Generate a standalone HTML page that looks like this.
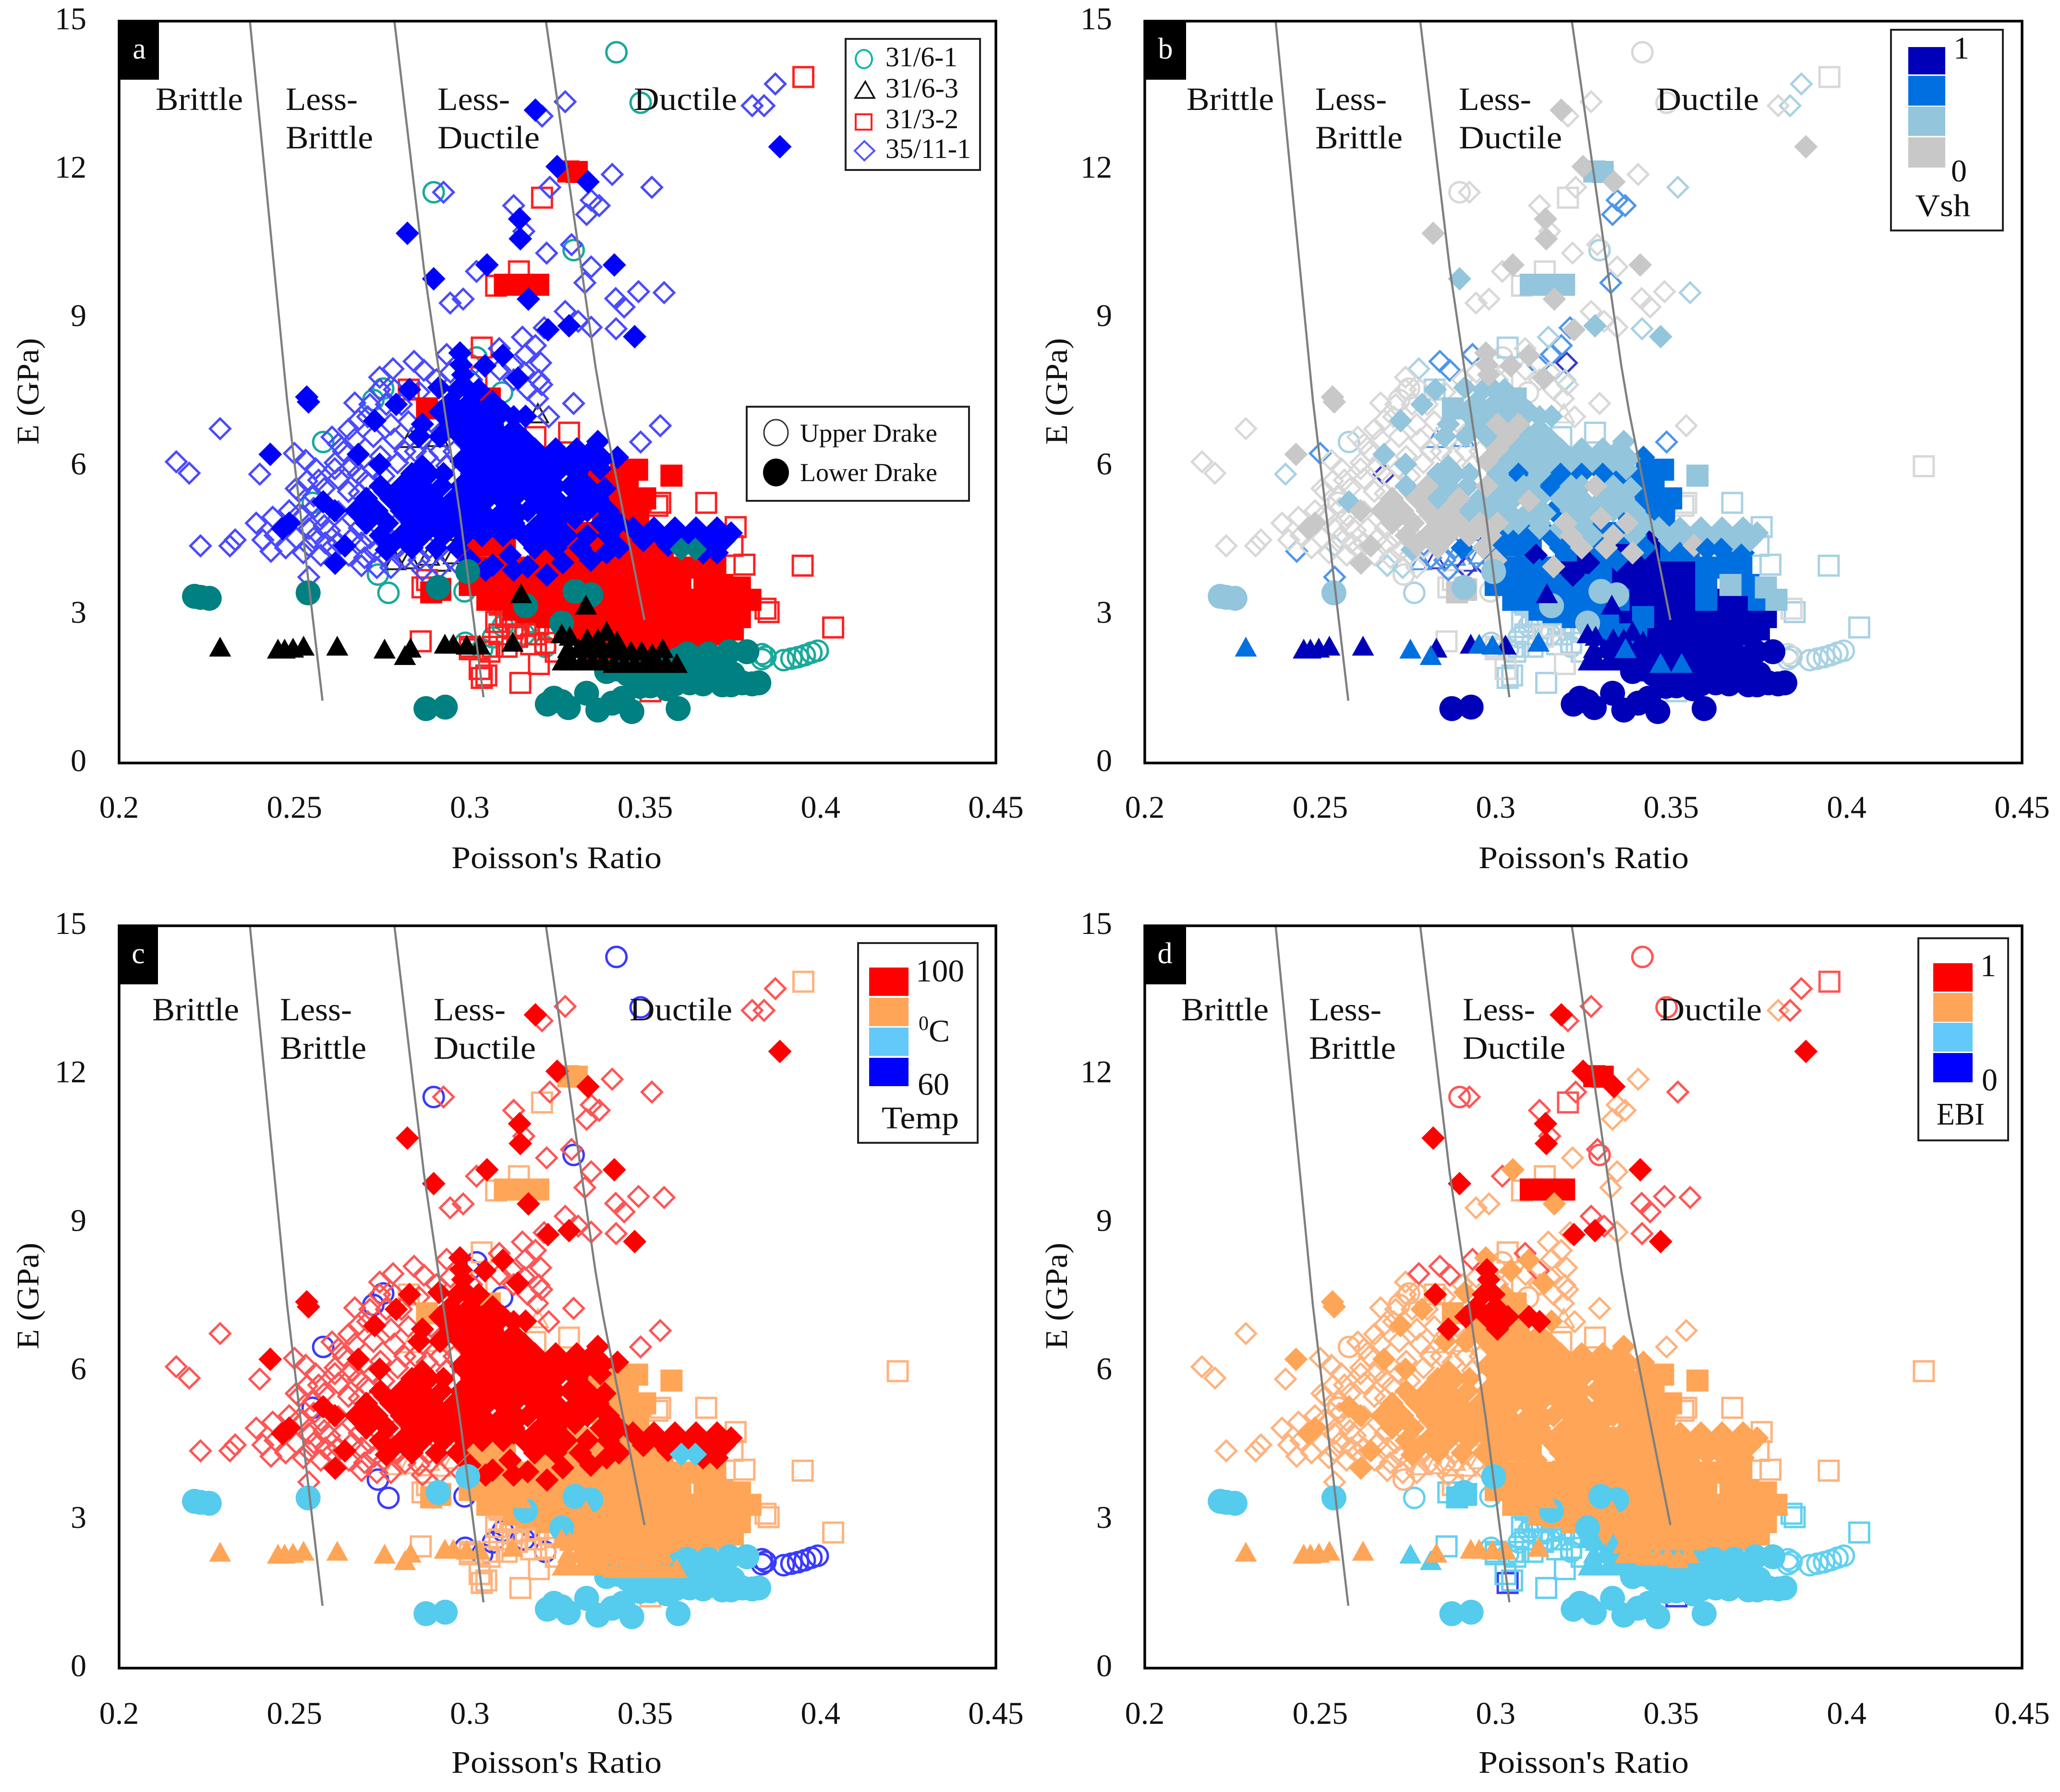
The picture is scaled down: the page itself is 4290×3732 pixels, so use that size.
<!DOCTYPE html>
<html lang="en">
<head>
<meta charset="utf-8">
<title>Poisson's Ratio vs E crossplots</title>
<style>
html,body{margin:0;padding:0;background:#fff}
svg{display:block}
text{font-family:"Liberation Serif","DejaVu Serif",serif;fill:#111}
.rg{font-size:68px}
.tk{font-size:66px}
.ax{font-size:66px}
.lg{font-size:58px}
.dr{font-size:54px}
.ltr{font-size:62px;fill:#fff;text-anchor:middle}
</style>
</head>
<body>
<svg xmlns="http://www.w3.org/2000/svg" width="4290" height="3732" viewBox="0 0 4290 3732">
<rect width="4290" height="3732" fill="#fff"/>

<g id="panel-a">
  <g id="marks-a"></g>
  <g id="curves-a"></g>
  <text class="rg" x="324" y="229" textLength="182" lengthAdjust="spacingAndGlyphs">Brittle</text>
  <text class="rg" x="595" y="229" textLength="150" lengthAdjust="spacingAndGlyphs">Less-</text>
  <text class="rg" x="595" y="309" textLength="182" lengthAdjust="spacingAndGlyphs">Brittle</text>
  <text class="rg" x="911" y="229" textLength="151" lengthAdjust="spacingAndGlyphs">Less-</text>
  <text class="rg" x="911" y="309" textLength="213" lengthAdjust="spacingAndGlyphs">Ductile</text>
  <text class="rg" x="1320" y="229" textLength="215" lengthAdjust="spacingAndGlyphs">Ductile</text>
  <g>
    <rect x="1761" y="81" width="280" height="273" fill="#fff" stroke="#222" stroke-width="4"/>
    <ellipse cx="1799" cy="123" rx="17" ry="19" fill="none" stroke="#10b4ac" stroke-width="4"/>
    <path d="M1781 204 L1802 170 L1821 204 Z" fill="none" stroke="#111" stroke-width="3.5"/>
    <rect x="1782" y="238" width="33" height="32" fill="none" stroke="#ff2020" stroke-width="4"/>
    <path d="M1800 294 L1821 314 L1800 334 L1780 314 Z" fill="none" stroke="#5555ff" stroke-width="4"/>
    <text class="lg" x="1844" y="138" textLength="150" lengthAdjust="spacingAndGlyphs">31/6-1</text>
    <text class="lg" x="1844" y="203" textLength="152" lengthAdjust="spacingAndGlyphs">31/6-3</text>
    <text class="lg" x="1844" y="267" textLength="152" lengthAdjust="spacingAndGlyphs">31/3-2</text>
    <text class="lg" x="1844" y="329" textLength="178" lengthAdjust="spacingAndGlyphs">35/11-1</text>
  </g>
  <g>
    <rect x="1555" y="847" width="463" height="196" fill="#fff" stroke="#222" stroke-width="4"/>
    <ellipse cx="1616" cy="901" rx="25" ry="27" fill="none" stroke="#333" stroke-width="3"/>
    <ellipse cx="1616" cy="984" rx="27" ry="29" fill="#000"/>
    <text class="dr" x="1666" y="920" textLength="286" lengthAdjust="spacingAndGlyphs">Upper Drake</text>
    <text class="dr" x="1666" y="1002" textLength="286" lengthAdjust="spacingAndGlyphs">Lower Drake</text>
  </g>
  <rect x="248" y="44" width="83" height="122" fill="#000"/>
  <text class="ltr" x="290" y="122">a</text>
  <rect x="248" y="44" width="1826" height="1545" fill="none" stroke="#000" stroke-width="5.5"/>
  <text class="ax" x="1159" y="1808" text-anchor="middle" textLength="438" lengthAdjust="spacingAndGlyphs">Poisson's Ratio</text>
  <text class="ax" transform="translate(80 815) rotate(-90)" text-anchor="middle" textLength="222" lengthAdjust="spacingAndGlyphs">E (GPa)</text>
  <g id="ticks-a"></g>
</g>

<g id="panel-b">
  <g id="marks-b"></g>
  <g id="curves-b"></g>
  <text class="rg" x="2471" y="229" textLength="182" lengthAdjust="spacingAndGlyphs">Brittle</text>
  <text class="rg" x="2739" y="229" textLength="149" lengthAdjust="spacingAndGlyphs">Less-</text>
  <text class="rg" x="2739" y="309" textLength="182" lengthAdjust="spacingAndGlyphs">Brittle</text>
  <text class="rg" x="3038" y="229" textLength="151" lengthAdjust="spacingAndGlyphs">Less-</text>
  <text class="rg" x="3038" y="309" textLength="215" lengthAdjust="spacingAndGlyphs">Ductile</text>
  <text class="rg" x="3449" y="229" textLength="214" lengthAdjust="spacingAndGlyphs">Ductile</text>
  <g>
    <rect x="3938" y="62" width="233" height="418" fill="#fff" stroke="#222" stroke-width="4"/>
    <rect x="3974" y="98" width="77" height="57" fill="#0000b8"/>
    <rect x="3974" y="158" width="77" height="62" fill="#0070e0"/>
    <rect x="3974" y="222" width="77" height="61" fill="#93c5dc"/>
    <rect x="3974" y="286" width="77" height="63" fill="#c8c8c8"/>
    <text class="tk" x="4068" y="122">1</text>
    <text class="tk" x="4063" y="378">0</text>
    <text class="tk" x="4046" y="450" text-anchor="middle" textLength="115" lengthAdjust="spacingAndGlyphs">Vsh</text>
  </g>
  <rect x="2384" y="44" width="86" height="122" fill="#000"/>
  <text class="ltr" x="2427" y="122">b</text>
  <rect x="2384" y="44" width="1827" height="1545" fill="none" stroke="#000" stroke-width="5.5"/>
  <text class="ax" x="3298" y="1808" text-anchor="middle" textLength="438" lengthAdjust="spacingAndGlyphs">Poisson's Ratio</text>
  <text class="ax" transform="translate(2222 815) rotate(-90)" text-anchor="middle" textLength="222" lengthAdjust="spacingAndGlyphs">E (GPa)</text>
  <g id="ticks-b"></g>
</g>

<g id="panel-c">
  <g id="marks-c"></g>
  <g id="curves-c"></g>
  <text class="rg" x="317" y="2125" textLength="181" lengthAdjust="spacingAndGlyphs">Brittle</text>
  <text class="rg" x="583" y="2125" textLength="150" lengthAdjust="spacingAndGlyphs">Less-</text>
  <text class="rg" x="583" y="2205" textLength="180" lengthAdjust="spacingAndGlyphs">Brittle</text>
  <text class="rg" x="903" y="2125" textLength="150" lengthAdjust="spacingAndGlyphs">Less-</text>
  <text class="rg" x="903" y="2205" textLength="213" lengthAdjust="spacingAndGlyphs">Ductile</text>
  <text class="rg" x="1311" y="2125" textLength="214" lengthAdjust="spacingAndGlyphs">Ductile</text>
  <g>
    <rect x="1787" y="1964" width="249" height="416" fill="#fff" stroke="#222" stroke-width="4"/>
    <rect x="1810" y="2015" width="82" height="59" fill="#ff0000"/>
    <rect x="1810" y="2078" width="82" height="59" fill="#ffa557"/>
    <rect x="1810" y="2140" width="82" height="59" fill="#62c9fa"/>
    <rect x="1810" y="2203" width="82" height="59" fill="#0000ff"/>
    <text class="tk" x="1907" y="2044" textLength="101" lengthAdjust="spacingAndGlyphs">100</text>
    <text class="tk" x="1913" y="2169"><tspan font-size="42" dy="-24">0</tspan><tspan dy="24">C</tspan></text>
    <text class="tk" x="1911" y="2280">60</text>
    <text class="tk" x="1836" y="2350" textLength="161" lengthAdjust="spacingAndGlyphs">Temp</text>
  </g>
  <rect x="248" y="1928" width="81" height="122" fill="#000"/>
  <text class="ltr" x="288" y="2006">c</text>
  <rect x="248" y="1928" width="1826" height="1546" fill="none" stroke="#000" stroke-width="5.5"/>
  <text class="ax" x="1159" y="3692" text-anchor="middle" textLength="438" lengthAdjust="spacingAndGlyphs">Poisson's Ratio</text>
  <text class="ax" transform="translate(80 2699) rotate(-90)" text-anchor="middle" textLength="222" lengthAdjust="spacingAndGlyphs">E (GPa)</text>
  <g id="ticks-c"></g>
</g>

<g id="panel-d">
  <g id="marks-d"></g>
  <g id="curves-d"></g>
  <text class="rg" x="2460" y="2125" textLength="182" lengthAdjust="spacingAndGlyphs">Brittle</text>
  <text class="rg" x="2726" y="2125" textLength="151" lengthAdjust="spacingAndGlyphs">Less-</text>
  <text class="rg" x="2726" y="2205" textLength="181" lengthAdjust="spacingAndGlyphs">Brittle</text>
  <text class="rg" x="3046" y="2125" textLength="151" lengthAdjust="spacingAndGlyphs">Less-</text>
  <text class="rg" x="3046" y="2205" textLength="214" lengthAdjust="spacingAndGlyphs">Ductile</text>
  <text class="rg" x="3456" y="2125" textLength="213" lengthAdjust="spacingAndGlyphs">Ductile</text>
  <g>
    <rect x="3995" y="1954" width="187" height="421" fill="#fff" stroke="#222" stroke-width="4"/>
    <rect x="4026" y="2006" width="82" height="59" fill="#ff0000"/>
    <rect x="4026" y="2068" width="82" height="60" fill="#ffa557"/>
    <rect x="4026" y="2130" width="82" height="60" fill="#62c9fa"/>
    <rect x="4026" y="2193" width="82" height="61" fill="#0000ff"/>
    <text class="tk" x="4124" y="2033">1</text>
    <text class="tk" x="4127" y="2271">0</text>
    <text class="tk" x="4083" y="2342" text-anchor="middle" textLength="100" lengthAdjust="spacingAndGlyphs">EBI</text>
  </g>
  <rect x="2384" y="1928" width="86" height="122" fill="#000"/>
  <text class="ltr" x="2426" y="2006">d</text>
  <rect x="2384" y="1928" width="1827" height="1546" fill="none" stroke="#000" stroke-width="5.5"/>
  <text class="ax" x="3298" y="3692" text-anchor="middle" textLength="438" lengthAdjust="spacingAndGlyphs">Poisson's Ratio</text>
  <text class="ax" transform="translate(2222 2699) rotate(-90)" text-anchor="middle" textLength="222" lengthAdjust="spacingAndGlyphs">E (GPa)</text>
  <g id="ticks-d"></g>
</g>
</svg>

<script>
// Tick values
const xTickValues=[0.2,0.25,0.3,0.35,0.4,0.45];
const xTickLabels=["0.2","0.25","0.3","0.35","0.4","0.45"];
const yTickValues=[0,3,6,9,12,15];
const yTickLabels=["0","3","6","9","12","15"];

// Brittleness boundary curves: [Poisson's ratio, E]
const curveBrittle=[[.2373,15],[.2479,7.34],[.258,1.26]];
const curveLessBrittle=[[.2785,15],[.2869,10],[.2972,5.03],[.3039,1.33]];
const curveLessDuctile=[[.3217,15],[.3358,8.03],[.338,7.11],[.3498,2.89]];

// Every row: [Poisson's ratio, E (GPa), Vsh class, Temp class, EBI class]
// Vsh class 0..3 = low..high; Temp and EBI class 0..3 = low..high
const upperCircles=[
[.3418,14.37,0,0,3],[.3487,13.35,0,0,3],[.2897,11.54,0,0,3],[.3296,10.37,1,0,3],[.3092,7.49,0,0,2],[.3019,8.2,0,0,2],
[.2753,7.57,0,0,2],[.2725,7.34,0,0,2],[.2582,6.49,1,0,2],[.2552,5.26,0,0,2],[.2738,3.81,0,0,2],[.2768,3.44,1,0,1],
[.2985,3.47,0,0,1],[.2987,2.43,1,0,1],[.3035,2.3,1,0,1],[.3066,2.54,1,0,1],[.3094,2.77,1,0,1],[.3155,2.6,1,0,1],
[.3175,2.85,1,0,1],[.3215,2.35,1,0,1],[.3833,2.2,0,0,1],[.3833,2.1,1,0,1],[.3843,2.15,1,0,1],[.3895,2.08,1,0,1],
[.3917,2.11,1,0,1],[.3936,2.14,1,0,1],[.3955,2.18,1,0,1],[.3974,2.23,1,0,1],[.3992,2.27,1,0,1],[.3,8.05,0,0,2]];

const upperTriangles=[
[.2831,6.55,2,2,2],[.2909,6.57,2,2,2],[.3194,7.05,0,2,2],[.3023,6.5,1,2,2],[.2787,4.08,2,2,2],[.2827,4.1,3,2,2],
[.2883,4.17,2,2,2],[.2937,4.67,2,2,2],[.2979,4.62,3,2,2],[.3015,4.86,2,2,2],[.2915,4.05,3,2,2],[.2955,4.2,2,2,2]];

const upperSquares=[
[.3951,13.87,0,2,3],[.3206,11.43,0,2,3],[.314,9.94,0,2,2],[.3075,9.65,0,2,2],[.3034,8.4,1,2,2],[.3019,7.8,0,2,2],
[.3283,6.68,1,2,2],[.3187,6.59,1,2,2],[.3543,5.26,0,2,2],[.3535,5.2,0,2,2],[.3674,5.26,1,2,2],[.3758,4.77,1,2,2],
[.3749,4.39,1,2,2],[.3783,4.01,1,2,2],[.3949,3.99,1,2,2],[.4036,2.74,1,2,1],[.3843,3.12,0,2,1],[.3852,3.05,1,2,1],
[.286,2.46,0,2,1],[.3,2.3,0,2,1],[.3056,2.25,1,2,1],[.3028,1.9,0,2,1],[.3034,1.72,1,2,0],[.3047,1.77,1,2,1],
[.3144,1.62,1,2,1],[.3197,2.0,0,2,1],[.3515,1.45,1,2,0],[.3768,3.4,1,2,1],[.2878,3.7,0,2,2],[.2865,3.55,0,2,1],
[.2916,3.52,0,2,1],[.3103,2.95,1,2,1],[.3122,2.72,1,2,1],[.3159,2.77,0,2,1],[.3187,2.6,1,2,1],[.3215,2.43,1,2,1],
[.314,3.12,1,2,1],[.3084,2.6,1,2,1],[.2826,7.55,1,2,2],[.422,6.0,0,2,2],[.3,4.0,0,2,2],[.3,2.35,0,2,1],
[.3075,2.85,1,2,1],[.3115,3.0,1,2,1],[.3135,2.55,0,2,1],[.3165,3.0,1,2,1],[.3175,2.4,1,2,1],[.3195,2.8,1,2,1],
[.3065,2.35,1,2,1],[.3105,2.35,1,2,1],[.3225,2.7,1,2,1],[.3245,2.25,1,2,1],[.3085,3.2,1,2,1]];

const upperDiamonds=[
[.3871,13.73,1,3,3],[.3805,13.29,0,3,2],[.3839,13.29,1,3,3],[.3272,13.37,0,3,3],[.3206,13.08,0,3,3],[.3406,11.9,0,3,2],
[.3519,11.64,1,3,3],[.3228,11.64,0,3,3],[.2925,11.54,0,3,3],[.3125,11.27,0,3,3],[.3346,11.38,2,3,2],[.3369,11.27,2,3,2],
[.3333,11.09,2,3,2],[.3154,10.75,0,3,3],[.3219,10.31,0,3,2],[.329,10.48,0,3,3],[.3346,10.03,0,3,2],[.3328,9.71,2,3,2],
[.3019,9.94,0,3,3],[.3416,9.39,0,3,3],[.344,9.22,0,3,3],[.3481,9.53,0,3,3],[.3554,9.51,1,3,3],[.2981,9.38,0,3,2],
[.2944,9.3,0,3,2],[.3272,9.13,0,3,3],[.3309,8.93,0,3,3],[.3346,8.81,0,3,2],[.3417,8.78,1,3,3],[.3212,8.8,2,3,2],
[.315,8.61,1,3,2],[.3187,8.44,2,3,2],[.3159,8.26,2,3,2],[.3202,8.09,3,3,2],[.3197,7.74,1,3,2],[.3205,7.65,0,3,2],
[.3193,7.37,0,3,2],[.3296,7.27,0,3,2],[.3543,6.82,0,3,2],[.3487,6.49,2,3,2],[.2841,8.12,2,3,3],[.2869,7.94,2,3,3],
[.2781,7.97,1,3,3],[.2743,7.8,0,3,2],[.2934,8.26,2,3,3],[.3084,8.38,0,3,3],[.3122,8.03,2,3,3],[.2288,6.76,0,3,2],
[.2163,6.09,0,3,2],[.22,5.86,0,3,2],[.2232,4.39,0,3,2],[.2401,5.84,1,3,2],[.25,6.26,2,3,2],[.2532,6.12,0,3,2],
[.2607,6.59,0,3,2],[.2672,7.28,0,3,2],[.2682,6.93,0,3,2],[.2331,4.51,0,3,2],[.2316,4.39,0,3,2],[.2391,4.85,0,3,2],
[.241,4.51,0,3,2],[.2433,4.28,2,3,2],[.2438,4.97,0,3,2],[.2513,5.03,0,3,2],[.2541,4.74,0,3,2],[.2541,4.39,1,3,2],
[.2541,3.76,2,3,2],[.2588,4.45,0,3,2],[.256,5.95,0,3,2],[.2569,5.72,0,3,2],[.2513,5.49,0,3,2],[.2616,6.07,0,3,2],
[.2682,5.84,3,3,2],[.2654,5.49,0,3,2],[.2625,5.08,0,3,2],[.2691,4.45,0,3,2],[.2691,3.99,1,3,2],[.2728,4.28,0,3,2],
[.2794,6.07,0,3,2],[.2757,5.49,0,3,2],[.2785,4.8,0,3,2],[.2878,6.18,0,3,2],[.2934,6.01,0,3,2],[.2743,7.55,0,3,2],
[.2762,7.25,0,3,2],[.2709,7.0,0,3,2],[.2725,6.6,0,3,2],[.2672,6.55,0,3,2],[.264,6.3,0,3,2],[.2615,5.95,0,3,2],
[.2665,6.0,0,3,2],[.2705,5.7,0,3,2],[.2745,6.2,0,3,2],[.2785,6.55,0,3,2],[.2825,6.9,0,3,2],[.2845,6.3,0,3,2],
[.2915,6.3,0,3,2],[.289,6.9,0,3,2],[.2945,7.9,0,3,2],[.3005,7.75,0,3,2],[.2505,5.55,0,3,2],[.2535,5.7,0,3,2],
[.2555,5.4,0,3,2],[.2485,5.1,0,3,2],[.2525,5.0,0,3,2],[.2575,5.0,0,3,2],[.26,4.7,0,3,2],[.2575,4.2,0,3,2],
[.2505,4.55,0,3,2],[.2475,4.35,0,3,2],[.2445,4.6,0,3,2],[.2605,4.35,0,3,2],[.2635,4.75,0,3,2],[.2665,4.55,0,3,2],
[.27,4.15,0,3,2],[.2735,3.95,1,3,2],[.2765,4.6,0,3,2],[.2795,4.35,0,3,2],[.2835,4.5,0,3,2],[.2855,4.1,2,3,2],
[.2885,4.35,2,3,2],[.2915,3.95,3,3,2],[.2945,4.15,2,3,2],[.2975,3.95,3,3,2],[.3,4.2,2,3,2],[.3085,3.7,3,3,2],
[.2525,4.25,0,3,2],[.2555,4.55,0,3,2],[.2585,4.8,0,3,2],[.2625,4.45,0,3,2],[.2655,4.2,0,3,2],[.2685,4.75,0,3,2],
[.2715,4.55,0,3,2],[.2755,4.2,0,3,2],[.2775,3.95,0,3,2],[.2815,4.15,2,3,2],[.2865,3.9,2,3,2],[.2555,5.15,0,3,2],
[.2585,5.55,0,3,2],[.2625,5.75,0,3,2],[.2655,5.95,0,3,2],[.2685,5.45,0,3,2],[.2725,5.95,0,3,2],[.2755,5.8,0,3,2],
[.2815,6.3,0,3,2],[.2865,6.55,0,3,2],[.2775,6.85,0,3,2],[.2715,7.25,0,3,2],[.2655,6.75,0,3,2],[.2625,6.45,0,3,2],
[.2785,7.55,0,3,2],[.2805,7.25,0,3,2],[.2855,7.5,0,3,2],[.2905,7.75,0,3,2],[.2955,6.3,0,3,2],[.3125,7.75,0,3,2],
[.3165,7.55,0,3,2],[.3225,7.0,0,3,2],[.3155,7.9,0,3,2],[.3085,7.95,0,3,2]];

const lowerSquares=[
[.36,2.25,3,2,1],[.365,2.25,3,2,1],[.334,2.25,3,2,1],[.339,2.25,3,2,1],[.344,2.25,3,2,1],[.349,2.25,3,2,1],[.354,2.25,3,2,1],
[.33,2.6,2,2,2],[.335,2.6,2,2,2],[.34,2.6,2,2,2],[.345,2.6,3,2,2],[.35,2.6,3,2,2],[.355,2.6,3,2,2],[.36,2.6,3,2,2],[.365,2.6,3,2,2],[.37,2.6,3,2,2],[.375,2.7,3,2,2],
[.322,2.95,2,2,2],[.327,2.95,2,2,2],[.332,2.95,2,2,2],[.337,2.95,3,2,2],[.342,2.95,2,2,2],[.347,2.95,3,2,2],[.352,2.95,3,2,2],[.357,2.95,3,2,2],[.362,2.95,3,2,2],[.367,2.95,3,2,2],[.372,2.95,3,2,2],[.377,2.95,3,2,2],
[.31,3.3,2,2,2],[.315,3.3,2,2,2],[.32,3.3,2,2,2],[.325,3.3,2,2,2],[.33,3.3,2,2,2],[.335,3.3,2,2,2],[.34,3.3,3,2,2],[.345,3.3,3,2,2],[.35,3.3,3,2,2],[.355,3.3,3,2,2],[.36,3.3,2,2,2],[.365,3.3,3,2,2],[.37,3.3,3,2,2],[.375,3.3,2,2,2],[.38,3.3,1,2,2],
[.3,3.6,2,2,2],[.305,3.6,2,2,2],[.31,3.6,2,2,2],[.315,3.6,2,2,2],[.32,3.6,2,2,2],[.325,3.6,2,2,2],[.33,3.6,2,2,2],[.335,3.6,3,2,2],[.34,3.6,3,2,2],[.345,3.6,3,2,2],[.35,3.6,3,2,2],[.355,3.6,3,2,2],[.36,3.6,2,2,2],[.3669,3.6,1,2,2],[.372,3.6,2,2,2],[.377,3.55,1,2,2],
[.31,3.95,2,2,2],[.315,3.95,2,2,2],[.32,3.95,3,2,2],[.325,3.95,3,2,2],[.33,3.95,2,2,2],[.335,3.95,3,2,2],[.34,3.95,3,2,2],[.345,3.95,3,2,2],[.35,3.95,3,2,2],[.355,3.95,3,2,2],[.36,3.95,2,2,2],[.365,3.95,2,2,2],[.37,3.95,2,2,2],
[.32,4.3,2,2,2],[.325,4.3,3,2,2],[.33,4.3,2,2,2],[.335,4.3,3,2,2],[.34,4.3,3,2,2],[.345,4.3,3,2,2],[.35,4.3,2,2,2],[.355,4.3,2,2,2],
[.325,4.65,2,2,2],[.33,4.65,2,2,2],[.335,4.65,2,2,2],[.34,4.65,2,2,2],[.345,4.65,3,2,2],[.35,4.65,3,2,2],
[.338,5.0,2,2,2],[.343,5.0,2,2,2],[.348,5.0,2,2,2],[.34,5.35,2,2,2],[.345,5.35,2,2,2],[.35,5.35,2,2,2],[.335,5.7,2,2,2],[.34,5.7,2,2,2],[.345,5.7,2,2,2],
[.3477,5.93,2,2,2],[.3575,5.81,1,2,2],[.3431,5.9,2,2,2],[.3281,11.96,1,2,3],[.3305,11.95,1,2,3],[.31,9.67,1,2,3],[.3145,9.67,1,2,3],[.3195,9.67,1,2,3],
[.2878,7.17,1,2,2],[.3057,7.37,1,2,2],[.289,3.45,0,2,1],[.2915,3.5,0,2,1],[.3,4.35,2,2,2],[.305,4.4,2,2,2],[.31,4.4,2,2,2],
[.305,3.3,2,2,2],[.3165,3.05,2,2,2],[.3125,3.1,2,2,2],[.3015,3.85,2,2,2],[.305,3.95,2,2,2]];

// Marks seen as diamonds peeking through the tail of the main cluster
const tailDiamonds=[[.3603,4.32,2,1,2],[.3643,4.32,2,1,2]];

const lowerDiamonds=[
[.3187,13.2,0,3,3],[.3884,12.46,0,3,3],[.3249,12.06,0,3,3],[.3337,11.75,0,3,3],[.3142,11.0,0,3,3],[.3144,10.6,0,3,3],[.2822,10.71,0,3,3],
[.3049,10.07,0,3,2],[.3412,10.07,0,3,3],[.2897,9.79,1,3,3],[.3167,9.38,0,3,2],[.3223,8.76,0,3,3],[.3283,8.84,1,3,3],[.347,8.62,1,3,3],
[.2972,8.29,0,3,2],[.3043,8.03,0,3,2],[.3094,8.24,0,3,2],[.3137,7.78,0,3,2],[.2828,7.55,1,3,3],[.2912,7.59,1,3,2],[.279,7.25,1,3,2],
[.2535,7.4,0,3,2],[.254,7.3,0,3,2],[.2729,6.92,1,3,2],[.3159,7.01,1,3,2],[.2431,6.24,0,3,2],[.2682,6.24,1,3,2],[.2743,6.04,1,3,2],
[.2582,5.28,1,3,2],[.2466,4.74,0,3,2],[.2485,4.85,0,3,2],[.2644,4.39,0,3,2],[.2616,4.04,0,3,2],[.2762,4.31,1,3,2],[.3365,6.5,1,3,2],
[.3421,6.18,2,3,2],[.338,6.15,1,3,2],
[.2975,8.05,0,3,3],[.298,7.85,0,3,3],[.2995,7.55,1,3,3],[.3,7.3,1,3,3],[.2965,7.55,1,3,3],[.3025,7.55,1,3,2],
[.2945,7.3,1,3,3],[.3065,7.3,1,3,2],[.2915,7.1,1,3,3],[.2975,7.1,1,3,3],[.3035,7.1,1,3,3],[.3095,7.1,1,3,3],[.3125,7.0,1,3,3],
[.2865,6.85,1,3,3],[.2945,6.85,1,3,2],[.3005,6.85,0,3,3],[.3065,6.85,0,3,2],[.3125,6.75,1,3,2],
[.2855,6.6,1,3,2],[.2915,6.6,1,3,2],[.2975,6.6,1,3,2],[.3035,6.6,0,3,2],[.3095,6.6,1,3,2],[.3155,6.55,1,3,2],
[.3005,6.35,0,3,2],[.3065,6.35,1,3,2],[.3125,6.35,1,3,2],[.3185,6.35,1,3,2],[.3245,6.35,1,3,2],[.3305,6.35,1,3,2],[.3345,6.3,1,3,2],
[.2975,6.1,0,3,2],[.3035,6.1,1,3,2],[.3095,6.1,1,3,2],[.3155,6.1,1,3,2],[.3215,6.1,1,3,2],[.3275,6.1,1,3,2],[.3335,6.1,1,3,2],[.3372,5.95,1,3,2],
[.2835,5.85,1,3,2],[.2885,5.85,1,3,2],[.2925,5.85,1,3,2],[.2865,6.0,1,3,2],[.3005,5.85,1,3,2],[.3065,5.85,2,3,2],[.3125,5.85,1,3,2],[.3185,5.85,2,3,2],[.3245,5.85,2,3,2],[.3305,5.85,2,3,2],
[.2745,5.6,1,3,2],[.2805,5.6,0,3,2],[.2865,5.6,1,3,2],[.292,5.6,1,3,2],[.2975,5.6,0,3,2],[.3035,5.6,1,3,2],[.308,5.6,1,3,2],[.3095,5.6,1,3,2],[.3155,5.6,2,3,2],[.3215,5.6,1,3,2],[.3245,5.6,1,3,2],[.3285,5.6,0,3,2],[.3335,5.6,1,3,2],[.3385,5.55,1,3,2],
[.2705,5.35,0,3,2],[.2775,5.35,0,3,2],[.2835,5.35,1,3,2],[.2895,5.35,0,3,2],[.2955,5.35,1,3,2],[.3005,5.35,1,3,2],[.3055,5.37,1,3,2],[.3095,5.3,0,3,2],[.3125,5.35,1,3,2],[.3185,5.35,1,3,2],[.3245,5.35,1,3,2],[.3305,5.35,1,3,2],[.3365,5.35,1,3,2],
[.2615,5.1,0,3,2],[.2675,5.1,0,3,2],[.2735,5.1,0,3,2],[.2805,5.1,0,3,2],[.2865,5.1,0,3,2],[.2925,5.1,1,3,2],[.2985,5.1,1,3,2],[.3035,5.1,1,3,2],[.3095,5.1,1,3,2],[.314,5.05,1,3,2],[.3165,5.1,2,3,2],[.3215,5.1,1,3,2],[.3275,5.1,1,3,2],[.3335,5.1,1,3,2],[.3395,5.1,1,3,2],
[.2705,4.85,0,3,2],[.2765,4.85,0,3,2],[.2835,4.85,0,3,2],[.2895,4.85,0,3,2],[.2955,4.85,0,3,2],[.3005,4.85,0,3,2],[.3035,4.85,1,3,2],[.3065,4.85,1,3,2],[.3125,4.85,1,3,2],[.32,4.85,0,3,2],[.3245,4.85,1,3,2],[.33,4.95,0,3,2],[.3375,4.85,0,3,2],[.3425,4.85,1,3,2],
[.3465,4.75,1,3,2],[.3525,4.75,1,3,2],[.3585,4.75,1,3,2],[.3645,4.75,1,3,2],[.3705,4.75,1,3,2],[.3745,4.65,1,3,2],[.3125,4.75,1,3,2],[.3185,4.75,1,3,2],
[.2745,4.6,0,3,2],[.2805,4.6,0,3,2],[.2865,4.6,0,3,2],[.2925,4.6,0,3,2],[.2985,4.6,0,3,2],[.3035,4.6,2,3,2],[.3095,4.6,2,3,2],[.3155,4.6,2,3,2],[.3215,4.6,0,3,2],[.3275,4.6,1,3,2],[.3335,4.6,0,3,2],[.3395,4.6,1,3,2],
[.3495,4.5,1,3,2],[.3555,4.5,1,3,2],[.3615,4.5,1,3,2],[.3675,4.5,1,3,2],[.3725,4.5,1,3,2],[.2775,4.4,0,3,2],[.2835,4.35,0,3,2],
[.2905,4.35,2,3,2],[.2965,4.35,0,3,2],[.3115,4.2,3,3,2],[.3185,4.35,2,3,2],[.3245,4.35,0,3,2],[.3315,4.35,0,3,2],[.339,4.25,0,3,2],[.3425,4.35,2,3,2],[.3565,4.4,0,3,2],[.3665,4.25,2,3,2],[.3705,4.25,2,3,2],
[.3,4.1,0,3,2],[.3065,4.0,2,3,2],[.3265,4.05,3,3,2],[.3345,4.1,2,3,2],[.3045,3.9,2,3,2],[.3125,3.9,2,3,2],[.3165,3.97,0,3,2],[.322,3.8,3,3,2]];

const lowerCircles=[
[.2215,3.37,1,1,1],[.2232,3.35,1,1,1],[.2257,3.33,1,1,1],[.2539,3.44,1,1,1],[.291,3.55,1,1,1],[.2994,3.87,1,1,1],
[.3159,3.18,1,1,1],[.3262,2.83,1,1,1],[.33,3.47,1,1,1],[.3345,3.4,1,1,1],
[.2875,1.1,3,1,1],[.293,1.13,3,1,1],[.3221,1.19,3,1,1],[.324,1.31,3,1,1],[.3262,1.24,3,1,1],[.3281,1.12,3,1,1],
[.3333,1.41,3,1,1],[.3365,1.07,3,1,1],[.3406,1.21,3,1,1],[.3436,1.31,3,1,1],[.3462,1.04,3,1,1],[.3594,1.1,3,1,1],
[.3824,1.62,3,1,1],[.3777,1.62,3,1,1],[.372,1.58,3,1,1],[.3683,1.68,3,1,1],[.3627,1.62,3,1,1],[.3562,1.5,3,1,1],
[.3515,1.56,3,1,1],[.3496,1.73,3,1,1],[.339,1.85,3,1,1],[.345,1.8,3,1,1],[.352,1.85,3,1,1],[.358,1.9,3,1,1],
[.365,2.0,3,1,1],[.372,2.05,3,1,1],[.362,2.2,3,1,1],[.368,2.2,3,1,1],[.374,2.25,3,1,1],
[.379,2.25,3,1,1],[.361,1.75,3,1,1],[.37,1.8,3,1,1],[.375,1.8,3,1,1],
[.3545,1.75,3,1,1],[.3585,1.6,3,1,1],[.3605,2.1,3,1,1],[.3665,1.6,3,1,1],[.3805,1.6,3,1,1],[.3745,1.58,3,1,1],
[.3595,2.1,3,1,1],[.354,2.05,3,1,1],[.348,2.0,3,1,1],[.342,1.9,3,1,1],[.3485,1.55,3,1,1],[.354,1.6,3,1,1],[.3695,1.95,3,1,1]];

const lowerTriangles=[
[.2288,2.33,2,2,2],[.2453,2.29,3,2,2],[.2472,2.29,3,2,2],[.2496,2.31,3,2,2],[.2526,2.35,3,2,2],[.2622,2.35,3,2,2],
[.2757,2.29,2,2,1],[.2815,2.16,2,2,1],[.2831,2.31,3,2,2],[.2929,2.39,3,2,2],[.2953,2.39,2,2,2],[.2991,2.37,2,2,2],
[.3028,2.37,3,2,2],[.3122,2.43,2,2,2],[.3146,3.41,3,2,2],[.3331,3.18,3,2,2],[.3262,2.6,3,2,1],[.3265,2.05,3,2,1],
[.329,2.05,3,2,1],[.332,2.05,3,2,1],[.335,2.05,3,2,1],[.338,2.05,3,2,1],[.341,2.0,3,2,1],[.344,2.0,3,2,1],[.347,2.0,2,2,1],
[.35,2.0,3,2,1],[.353,2.0,2,2,1],[.356,2.0,3,2,1],[.359,2.0,3,2,1],
[.328,2.3,3,2,1],[.331,2.3,3,2,1],[.334,2.3,3,2,1],[.337,2.3,2,2,2],[.34,2.3,3,2,2],[.343,2.25,3,2,2],[.346,2.25,3,2,2],[.349,2.25,3,2,2],[.352,2.2,3,2,2],[.355,2.3,3,2,2],
[.3335,2.5,3,2,1],[.3365,2.5,3,2,2],[.339,2.65,3,2,2],[.342,2.45,3,2,2],[.3285,2.55,3,2,1]];

const NS="http://www.w3.org/2000/svg";
const xMin=0.2,xMax=0.45,yMin=0,yMax=15;

const panels=[
 {id:"a",left:248,width:1826,top:44,height:1545,tickBase:1703,cls:-1},
 {id:"b",left:2384,width:1827,top:44,height:1545,tickBase:1703,cls:2},
 {id:"c",left:248,width:1826,top:1928,height:1546,tickBase:3590,cls:3},
 {id:"d",left:2384,width:1827,top:1928,height:1546,tickBase:3590,cls:4}
];

const fillV=["#c8c8c8","#93c5dc","#0070e0","#0000b8"];
const lineV=["#d8d8d8","#a9d2e4","#4e96ea","#3a3acb"];
const fillTE=["#0000ff","#55cbed","#ffa557","#ff0000"];
const lineTE=["#3a3aff","#62d0f0","#ffb27c","#ff5555"];

const layers=[
 {rows:upperCircles,kind:"circle",filled:false,name:"31-6-1-upper-point",wellColor:"#1aa99c"},
 {rows:upperTriangles,kind:"triangle",filled:false,name:"31-6-3-upper-point",wellColor:"#222222"},
 {rows:upperSquares,kind:"square",filled:false,name:"31-3-2-upper-point",wellColor:"#ff2020"},
 {rows:upperDiamonds,kind:"diamond",filled:false,name:"35-11-1-upper-point",wellColor:"#4a4aff"},
 {rows:lowerSquares,kind:"square",filled:true,name:"31-3-2-lower-point",wellColor:"#ff0000"},
 {rows:lowerDiamonds,kind:"diamond",filled:true,name:"35-11-1-lower-point",wellColor:"#0000ff"},
 {rows:tailDiamonds,kind:"diamond",filled:true,name:"31-6-1-tail-point",wellColor:"#008080"},
 {rows:lowerCircles,kind:"circle",filled:true,name:"31-6-1-lower-point",wellColor:"#008080"},
 {rows:lowerTriangles,kind:"triangle",filled:true,name:"31-6-3-lower-point",wellColor:"#000000"}
];

function xAxis(p,v){return p.left+(v-xMin)/(xMax-xMin)*p.width;}
function yAxis(p,v){return p.top+p.height-(v-yMin)/(yMax-yMin)*p.height;}

function markColor(p,layer,row){
  if(p.cls<0) return layer.wellColor;
  const k=row[p.cls];
  if(p.cls===2) return layer.filled?fillV[k]:lineV[k];
  return layer.filled?fillTE[k]:lineTE[k];
}

function drawMark(p,layer,row,parent){
  const cx=xAxis(p,row[0]),cy=yAxis(p,row[1]);
  const color=markColor(p,layer,row);
  let el;
  if(layer.kind==="circle"){
    el=document.createElementNS(NS,"circle");
    el.setAttribute("cx",cx);el.setAttribute("cy",cy);
    el.setAttribute("r",layer.filled?26:21);
  }else if(layer.kind==="square"){
    const h=layer.filled?23:20.5;
    el=document.createElementNS(NS,"rect");
    el.setAttribute("x",cx-h);el.setAttribute("y",cy-h);
    el.setAttribute("width",2*h);el.setAttribute("height",2*h);
  }else if(layer.kind==="diamond"){
    const h=layer.filled?24.5:21;
    el=document.createElementNS(NS,"path");
    el.setAttribute("d","M"+cx+" "+(cy-h)+"L"+(cx+h)+" "+cy+"L"+cx+" "+(cy+h)+"L"+(cx-h)+" "+cy+"Z");
  }else{
    const h=layer.filled?23:21;
    el=document.createElementNS(NS,"path");
    el.setAttribute("d","M"+cx+" "+(cy-h)+"L"+(cx+h)+" "+(cy+h*0.8)+"L"+(cx-h)+" "+(cy+h*0.8)+"Z");
  }
  if(layer.filled){
    el.setAttribute("fill",color);
  }else{
    el.setAttribute("fill","none");
    el.setAttribute("stroke",color);
    el.setAttribute("stroke-width",layer.kind==="triangle"?4:5);
  }
  
  
  parent.appendChild(el);
}

function drawCurve(p,points,parent,name){
  const el=document.createElementNS(NS,"polyline");
  el.setAttribute("points",points.map(function(q){return xAxis(p,q[0])+","+yAxis(p,q[1]);}).join(" "));
  el.setAttribute("fill","none");
  el.setAttribute("stroke","#7f7f7f");
  el.setAttribute("stroke-width","4.5");
  
  
  parent.appendChild(el);
}

function drawTicks(p,parent){
  xTickValues.forEach(function(v,i){
    const t=document.createElementNS(NS,"text");
    t.setAttribute("class","tk");
    t.setAttribute("x",xAxis(p,v));
    t.setAttribute("y",p.tickBase);
    t.setAttribute("text-anchor","middle");
    
    
    t.textContent=xTickLabels[i];
    parent.appendChild(t);
  });
  yTickValues.forEach(function(v,i){
    const t=document.createElementNS(NS,"text");
    t.setAttribute("class","tk");
    t.setAttribute("x",p.left-68);
    t.setAttribute("y",yAxis(p,v)+17);
    t.setAttribute("text-anchor","end");
    
    
    t.textContent=yTickLabels[i];
    parent.appendChild(t);
  });
}

panels.forEach(function(p){
  const marks=document.getElementById("marks-"+p.id);
  layers.forEach(function(layer){
    let rows=layer.rows.slice();
    if(p.cls===2){rows.sort(function(a,b){return b[2]-a[2];});}
    else if(p.cls>0){rows.sort(function(a,b){return a[p.cls]-b[p.cls];});}
    rows.forEach(function(row){drawMark(p,layer,row,marks);});
  });
  const curves=document.getElementById("curves-"+p.id);
  drawCurve(p,curveBrittle,curves,"brittle-boundary-curve");
  drawCurve(p,curveLessBrittle,curves,"less-brittle-boundary-curve");
  drawCurve(p,curveLessDuctile,curves,"less-ductile-boundary-curve");
  drawTicks(p,document.getElementById("ticks-"+p.id));
});
</script>
</body>
</html>
